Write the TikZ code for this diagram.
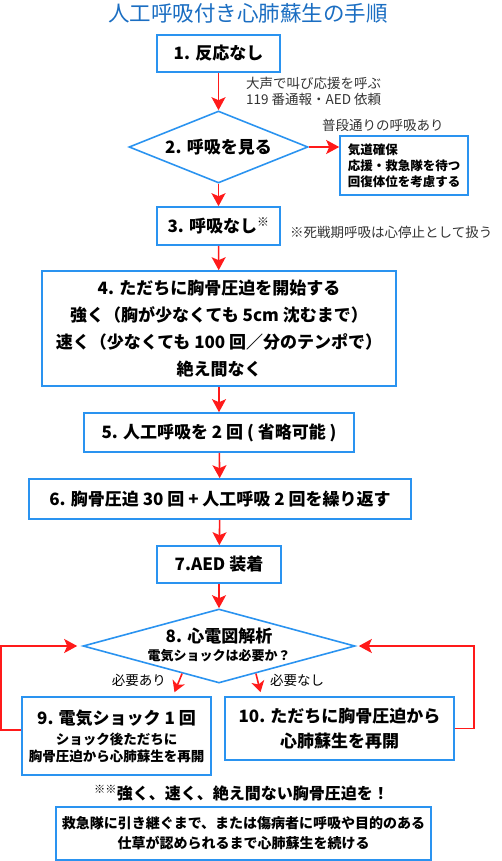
\documentclass[tikz,border=0pt]{standalone}
\usepackage{fontspec}
\setmainfont{Noto Sans CJK JP}
\usepackage{xcolor}
\usetikzlibrary{arrows.meta,shapes.geometric,calc}

\definecolor{boxblue}{HTML}{2A93F0}
\definecolor{titleblue}{HTML}{1B6EC2}
\definecolor{arrred}{HTML}{FF1A1A}

\tikzset{
  stepbox/.style={draw=boxblue, line width=1.6pt, fill=white, align=center,
    inner sep=0pt, text=black, font=\bfseries\fontsize{17}{27}\selectfont},
  checkdiam/.style={shape=diamond, draw=boxblue, line width=1.6pt, fill=white,
    inner sep=0pt},
  arr/.style={draw=arrred, line width=1.6pt,
    -{Stealth[length=13pt, width=14pt, inset=3pt]}},
  remark/.style={text=black!80, inner sep=0pt, font=\fontsize{13.5}{16}\selectfont}
}

\begin{document}
\begin{tikzpicture}[x=1pt, y=-1pt]
  % 1 unit = 1 px of the layout, y runs downwards
  \useasboundingbox (0,0) rectangle (501,861);
  \node[text=titleblue, font=\fontsize{21.5}{24}\selectfont] (title) at (248,13) {人工呼吸付き心肺蘇生の手順};

  \node[stepbox, minimum width=123pt, minimum height=37pt] (b1) at (218.5,53.5) {1. 反応なし};
  \node[remark, anchor=north west, align=left] (call) at (246,77) {大声で叫び応援を呼ぶ\\119 番通報・AED 依頼};
  \node[checkdiam, shape aspect=2.49, minimum width=179pt, minimum height=72pt,
    label={[text=black, font=\bfseries\fontsize{17}{20}\selectfont]center:2. 呼吸を見る}] (d2) at (218.5,147) {};
  \node[stepbox, minimum width=128pt, minimum height=59pt, align=left, font=\bfseries\fontsize{12.5}{16}\selectfont] (side) at (404,165.5) {気道確保\\応援・救急隊を待つ\\回復体位を考慮する};
  \node[remark, anchor=west] (normal) at (322,125) {普段通りの呼吸あり};
  \node[stepbox, minimum width=123pt, minimum height=38pt] (b3) at (218.5,226) {3. 呼吸なし\textsuperscript{※}};
  \node[remark, anchor=west] (agonal) at (290,232) {※死戦期呼吸は心停止として扱う};
  \node[stepbox, minimum width=354pt, minimum height=115pt] (b4) at (219,328.5) {4. ただちに胸骨圧迫を開始する\\強く（胸が少なくても 5cm 沈むまで）\\速く（少なくても 100 回／分のテンポで）\\絶え間なく};
  \node[stepbox, minimum width=270pt, minimum height=39pt] (b5) at (219,432.5) {5. 人工呼吸を 2 回 ( 省略可能 )};
  \node[stepbox, minimum width=382pt, minimum height=40pt] (b6) at (220,499) {6. 胸骨圧迫 30 回 + 人工呼吸 2 回を繰り返す};
  \node[stepbox, minimum width=124pt, minimum height=37pt] (b7) at (219,564.5) {7.AED 装着};
  \node[checkdiam, shape aspect=3.68, minimum width=272pt, minimum height=74pt,
    label={[text=black, align=center, yshift=1pt, font=\bfseries\fontsize{13}{18}\selectfont]center:{\fontsize{17}{20}\selectfont 8. 心電図解析}\\電気ショックは必要か？}] (d8) at (219,646) {};
  \node[stepbox, minimum width=189pt, minimum height=78pt, font=\bfseries\fontsize{13.5}{17}\selectfont] (b9) at (116.5,736) {{\fontsize{17}{20}\selectfont 9. 電気ショック 1 回}\\[3pt]ショック後ただちに\\胸骨圧迫から心肺蘇生を再開};
  \node[stepbox, minimum width=229pt, minimum height=63pt, font=\bfseries\fontsize{17}{25}\selectfont] (b10) at (339.5,728.5) {10. ただちに胸骨圧迫から\\心肺蘇生を再開};
  \node[remark, anchor=east, text=black] (yes) at (166,680) {必要あり};
  \node[remark, anchor=west, text=black] (no) at (270,680) {必要なし};
  \node[text=black, inner sep=0pt, font=\bfseries\fontsize{16}{19}\selectfont] (motto) at (241.5,793) {\textsuperscript{※※}強く、速く、絶え間ない胸骨圧迫を！};
  \node[stepbox, minimum width=375pt, minimum height=53pt, font=\bfseries\fontsize{14}{20}\selectfont] (cont) at (243.5,833.5) {救急隊に引き継ぐまで、または傷病者に呼吸や目的のある\\仕草が認められるまで心肺蘇生を続ける};

  \draw[arr] (b1) -- (d2);
  \draw[arr] (d2.east) -- (d2.east -| side.west);
  \draw[arr] (d2) -- (b3);
  \draw[arr] (b3) -- (b4);
  \draw[arr] (b4) -- (b5);
  \draw[arr] (b5) -- (b6);
  \draw[arr] (b6) -- (b7);
  \draw[arr] (b7) -- (d8);
  \draw[arr, -{Stealth[length=11pt, width=13pt, inset=3pt]}] ($(d8.south)!0.27!(d8.west)$) -- ([xshift=58pt, yshift=4pt]b9.north);
  \draw[arr, -{Stealth[length=11pt, width=13pt, inset=3pt]}] ($(d8.south)!0.27!(d8.east)$) -- ([xshift=-79pt, yshift=4pt]b10.north);
  \draw[arr, shorten >=5pt] ([yshift=6pt]b9.west) -- ++(-20,0) |- (d8.west);
  \draw[arr, shorten >=3pt] (b10.east) -- ++(19,0) |- (d8.east);
\end{tikzpicture}
\end{document}
